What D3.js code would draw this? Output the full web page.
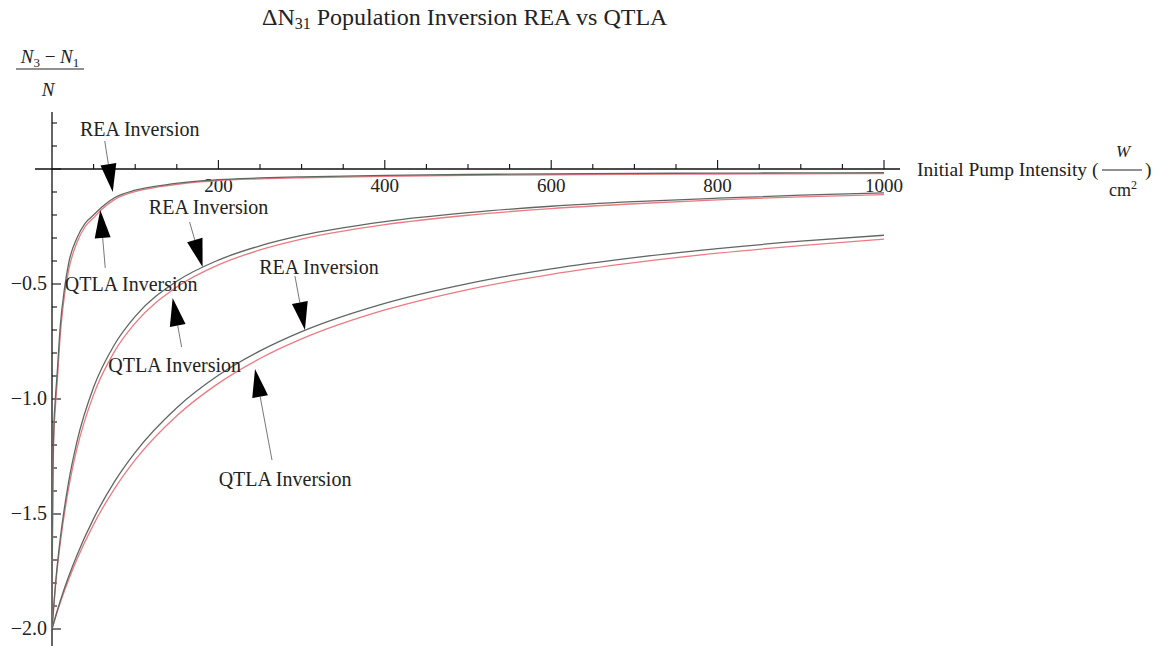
<!DOCTYPE html>
<html>
<head>
<meta charset="utf-8">
<script src="https://cdnjs.cloudflare.com/ajax/libs/d3/7.8.5/d3.min.js"></script>
<style>
  html, body { margin: 0; padding: 0; background: #fff; }
  svg { display: block; }
  text { font-family: "Liberation Serif", "Times New Roman", serif; fill: #222; }
</style>
</head>
<body>
<div id="chart"></div>
<script>
// ---------------------------------------------------------------------------
// Data (intensity in W/cm², inversion (N3-N1)/N)
// ---------------------------------------------------------------------------
const intensityFine = [0, 0.5, 1, 2, 4, 6, 10, 15, 20, 30, 40, 50, 60, 75, 100, 130, 160, 200, 250, 300, 400, 500, 600, 700, 800, 900, 1000];
const intensityWide = [0, 5, 10, 20, 30, 50, 75, 100, 150, 200, 250, 300, 400, 500, 600, 700, 800, 900, 1000];

// pair 1 (fast)
const rea1  = [-2.0, -1.6, -1.35, -1.15, -1.0, -0.9, -0.68, -0.52, -0.41, -0.30, -0.235, -0.20, -0.165, -0.125, -0.092, -0.072, -0.058, -0.046, -0.039, -0.034, -0.028, -0.024, -0.021, -0.019, -0.018, -0.017, -0.016];
const qtla1 = [-2.0, -1.65, -1.40, -1.19, -1.04, -0.94, -0.72, -0.55, -0.44, -0.32, -0.25, -0.212, -0.175, -0.133, -0.098, -0.077, -0.062, -0.050, -0.043, -0.038, -0.032, -0.028, -0.025, -0.023, -0.022, -0.021, -0.020];
// pair 2 (middle)
const rea2  = [-2.0, -1.772, -1.605, -1.360, -1.185, -0.949, -0.764, -0.641, -0.488, -0.396, -0.334, -0.289, -0.229, -0.190, -0.162, -0.142, -0.127, -0.114, -0.104];
const qtla2 = [-2.0, -1.785, -1.625, -1.388, -1.216, -0.981, -0.794, -0.670, -0.513, -0.417, -0.352, -0.305, -0.242, -0.201, -0.172, -0.151, -0.134, -0.121, -0.111];
// pair 3 (slow)
const rea3  = [-2.0, -1.936, -1.877, -1.772, -1.679, -1.520, -1.360, -1.232, -1.038, -0.897, -0.791, -0.707, -0.584, -0.498, -0.434, -0.385, -0.346, -0.314, -0.288];
const qtla3 = [-2.0, -1.940, -1.885, -1.786, -1.697, -1.545, -1.391, -1.265, -1.073, -0.932, -0.824, -0.739, -0.613, -0.524, -0.458, -0.407, -0.366, -0.333, -0.305];

const xTickValues = [200, 400, 600, 800, 1000];
const yTickValues = [-0.5, -1.0, -1.5, -2.0];

// arrows: tip in data units, tail + label in pixel offsets from the tip
const annotations = [
    { text: 'REA Inversion',  x: 73,  y: -0.100, tail: [-8, -51],  label: [27, -62] },
    { text: 'QTLA Inversion', x: 58,  y: -0.178, tail: [5, 58],    label: [31, 75] },
    { text: 'REA Inversion',  x: 181, y: -0.426, tail: [-13, -45], label: [6, -59] },
    { text: 'QTLA Inversion', x: 145, y: -0.561, tail: [9, 49],    label: [2, 68] },
    { text: 'REA Inversion',  x: 304, y: -0.700, tail: [-10, -54], label: [14, -62] },
    { text: 'QTLA Inversion', x: 244, y: -0.870, tail: [17, 91],   label: [30, 111] }
];

// ---------------------------------------------------------------------------
const W = 1166, H = 646;
const svg = d3.select('#chart').append('svg')
    .attr('width', W).attr('height', H)
    .attr('viewBox', `0 0 ${W} ${H}`);

const x = d3.scaleLinear().domain([0, 1000]).range([52, 884]);
const y = d3.scaleLinear().domain([0, -2]).range([169, 629]);

const REA_COLOR  = '#5f6763';
const QTLA_COLOR = '#ec7a82';

// ── Axes ───────────────────────────────────────────────────────────────────
const axisG = svg.append('g');

// x axis line + ticks (ticks point upward)
axisG.append('line')
    .attr('x1', 35).attr('x2', 900)
    .attr('y1', y(0)).attr('y2', y(0))
    .attr('stroke', '#111').attr('stroke-width', 1.3);

const xMinor = d3.range(50, 1001, 50);
axisG.selectAll('line.xt').data(xMinor).join('line')
    .attr('class', 'xt')
    .attr('x1', d => x(d)).attr('x2', d => x(d))
    .attr('y1', y(0))
    .attr('y2', d => y(0) - (d % 200 === 0 ? 9 : 5))
    .attr('stroke', '#111').attr('stroke-width', 1.1);

axisG.selectAll('text.xl').data(xTickValues).join('text')
    .attr('class', 'xl')
    .attr('x', d => x(d)).attr('y', y(0) + 23)
    .attr('text-anchor', 'middle')
    .attr('font-size', '19px')
    .text(d => d);

// y axis line + ticks (ticks point right)
axisG.append('line')
    .attr('x1', x(0)).attr('x2', x(0))
    .attr('y1', 112).attr('y2', H)
    .attr('stroke', '#111').attr('stroke-width', 1.3);

const yMinor = d3.range(2, -21, -1).map(v => v / 10);
axisG.selectAll('line.yt').data(yMinor).join('line')
    .attr('class', 'yt')
    .attr('x1', x(0))
    .attr('x2', d => x(0) + (Math.round(d * 10) % 5 === 0 ? 9 : 5))
    .attr('y1', d => y(d)).attr('y2', d => y(d))
    .attr('stroke', '#111').attr('stroke-width', 1.1);

axisG.selectAll('text.yl').data(yTickValues).join('text')
    .attr('class', 'yl')
    .attr('x', 47).attr('y', d => y(d) + 6)
    .attr('text-anchor', 'end')
    .attr('font-size', '20px')
    .text(d => '\u2212' + Math.abs(d).toFixed(1));

// ── Curves ────────────────────────────────────────────────────────────────
const line = d3.line()
    .x(d => x(d[0])).y(d => y(d[1]))
    .curve(d3.curveMonotoneX);

const series = [
    { xs: intensityFine, ys: qtla1, color: QTLA_COLOR },
    { xs: intensityFine, ys: rea1,  color: REA_COLOR },
    { xs: intensityWide, ys: qtla2, color: QTLA_COLOR },
    { xs: intensityWide, ys: rea2,  color: REA_COLOR },
    { xs: intensityWide, ys: qtla3, color: QTLA_COLOR },
    { xs: intensityWide, ys: rea3,  color: REA_COLOR }
];

svg.append('g').selectAll('path').data(series).join('path')
    .attr('d', s => line(s.xs.map((v, i) => [v, s.ys[i]])))
    .attr('fill', 'none')
    .attr('stroke', s => s.color)
    .attr('stroke-width', 1.3);

// ── Annotations ───────────────────────────────────────────────────────────
const annG = svg.append('g');
const HEAD_LEN = 28, HEAD_HALF = 8;

annotations.forEach(a => {
    const tx = x(a.x), ty = y(a.y);
    const sx = tx + a.tail[0], sy = ty + a.tail[1];
    const dx = tx - sx, dy = ty - sy;
    const len = Math.hypot(dx, dy);
    const ux = dx / len, uy = dy / len;
    const bx = tx - ux * HEAD_LEN, by = ty - uy * HEAD_LEN;

    annG.append('line')
        .attr('x1', sx).attr('y1', sy).attr('x2', bx).attr('y2', by)
        .attr('stroke', '#777').attr('stroke-width', 1);

    annG.append('path')
        .attr('d', `M${tx},${ty}L${bx - uy * HEAD_HALF},${by + ux * HEAD_HALF}L${bx + uy * HEAD_HALF},${by - ux * HEAD_HALF}Z`)
        .attr('fill', '#000');

    annG.append('text')
        .attr('x', tx + a.label[0]).attr('y', ty + a.label[1] + 6)
        .attr('text-anchor', 'middle')
        .attr('font-size', '20px')
        .text(a.text);
});

// ── Title ─────────────────────────────────────────────────────────────────
const title = svg.append('text')
    .attr('x', 262).attr('y', 25)
    .attr('font-size', '24px');
title.append('tspan').text('\u0394N');
title.append('tspan').attr('font-size', '16px').attr('dy', 4).text('31');
title.append('tspan').attr('dy', -4).text(' Population Inversion REA vs QTLA');

// ── Y label (fraction) ────────────────────────────────────────────────────
const yl = svg.append('g');
const num = yl.append('text').attr('x', 50).attr('y', 63)
    .attr('text-anchor', 'middle').attr('font-size', '19px');
num.append('tspan').attr('font-style', 'italic').text('N');
num.append('tspan').attr('font-size', '13px').attr('dy', 4).text('3');
num.append('tspan').attr('dy', -4).text(' \u2212 ');
num.append('tspan').attr('font-style', 'italic').text('N');
num.append('tspan').attr('font-size', '13px').attr('dy', 4).text('1');
yl.append('line').attr('x1', 16).attr('x2', 84).attr('y1', 69).attr('y2', 69)
    .attr('stroke', '#222').attr('stroke-width', 1);
yl.append('text').attr('x', 48).attr('y', 96)
    .attr('text-anchor', 'middle').attr('font-size', '19px')
    .attr('font-style', 'italic').text('N');

// ── X label ───────────────────────────────────────────────────────────────
const xl = svg.append('g');
xl.append('text').attr('x', 917).attr('y', 176).attr('font-size', '19.5px')
    .text('Initial Pump Intensity (');
xl.append('text').attr('x', 1123).attr('y', 157).attr('text-anchor', 'middle')
    .attr('font-size', '17px').attr('font-style', 'italic').text('W');
xl.append('line').attr('x1', 1102).attr('x2', 1142).attr('y1', 170).attr('y2', 170)
    .attr('stroke', '#222').attr('stroke-width', 1);
const cm = xl.append('text').attr('x', 1123).attr('y', 196).attr('text-anchor', 'middle')
    .attr('font-size', '18px');
cm.append('tspan').text('cm');
cm.append('tspan').attr('font-size', '12px').attr('dy', -7).text('2');
xl.append('text').attr('x', 1145).attr('y', 176).attr('font-size', '19.5px').text(')');
</script>
</body>
</html>
